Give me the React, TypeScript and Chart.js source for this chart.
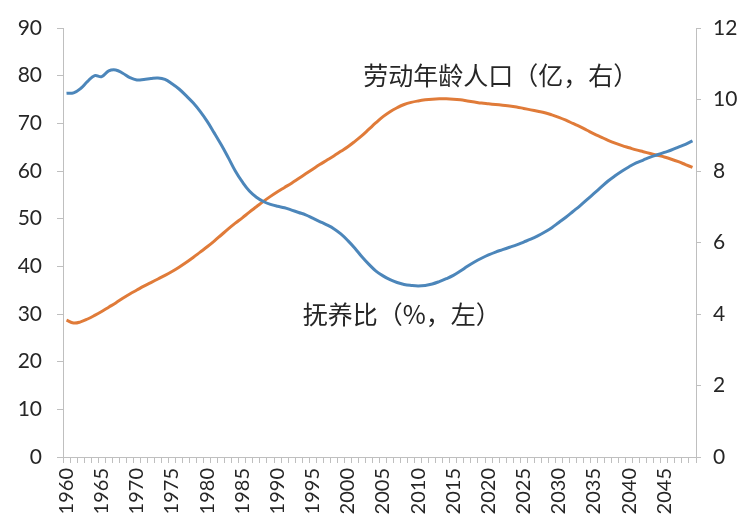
import React, { useEffect, useRef } from "react";
import { Chart, registerables } from "chart.js";

Chart.register(...registerables);

const years: string[] = [];
for (let y = 1960; y <= 2049; y++) years.push(String(y));

// 抚养比 (%, left axis)
const dependencyRatio = [
  76.3, 76.4, 77.3, 78.8, 80.0, 79.8, 81.0, 81.2, 80.5, 79.6,
  79.1, 79.2, 79.4, 79.5, 79.2, 78.3, 77.2, 75.8, 74.3, 72.5,
  70.4, 68.0, 65.5, 62.8, 60.0, 57.7, 55.8, 54.5, 53.6, 53.0,
  52.6, 52.3, 51.8, 51.3, 50.8, 50.1, 49.4, 48.7, 47.9, 46.8,
  45.4, 43.8, 42.0, 40.4, 39.0, 38.0, 37.2, 36.6, 36.2, 36.0,
  35.9, 36.0, 36.3, 36.8, 37.4, 38.1, 39.0, 40.0, 40.9, 41.7,
  42.4, 43.0, 43.5, 44.0, 44.5, 45.1, 45.7, 46.4, 47.2, 48.1,
  49.2, 50.3, 51.5, 52.7, 54.0, 55.3, 56.6, 57.9, 59.0, 60.0,
  60.9, 61.7, 62.3, 62.9, 63.4, 63.9, 64.4, 65.0, 65.6, 66.3,
];

// 劳动年龄人口 (亿, right axis)
const workingAgePop = [
  3.83, 3.75, 3.78, 3.86, 3.96, 4.07, 4.19, 4.31, 4.44, 4.56,
  4.67, 4.78, 4.88, 4.98, 5.08, 5.19, 5.31, 5.44, 5.58, 5.73,
  5.88, 6.04, 6.21, 6.38, 6.54, 6.69, 6.85, 7.00, 7.15, 7.29,
  7.42, 7.54, 7.66, 7.79, 7.92, 8.05, 8.18, 8.30, 8.42, 8.55,
  8.68, 8.83, 8.99, 9.17, 9.35, 9.52, 9.66, 9.77, 9.86, 9.92,
  9.96, 9.99, 10.01, 10.02, 10.02, 10.01, 9.99, 9.96, 9.93, 9.90,
  9.88, 9.86, 9.84, 9.82, 9.79, 9.75, 9.71, 9.67, 9.63, 9.57,
  9.50, 9.42, 9.33, 9.24, 9.14, 9.04, 8.95, 8.86, 8.78, 8.71,
  8.65, 8.59, 8.54, 8.49, 8.44, 8.39, 8.33, 8.26, 8.18, 8.10,
];

const leftLabel = "抚养比（%，左）";
const rightLabel = "劳动年龄人口（亿，右）";
// annotation anchors in data coordinates: [category index, left-axis value]
const rightLabelAnchor = [42.2, 80];
const leftLabelAnchor = [33.6, 29.8];

const FONT = "Lato, 'Noto Sans CJK SC', sans-serif";
const CJK = "'Noto Sans CJK SC', sans-serif";

const annotationPlugin = {
  id: "annots",
  afterDatasetsDraw(chart: any) {
    const { ctx, scales } = chart;
    const x = scales.x;
    const y = scales.y;
    const px = (i: number) => {
      const a = x.getPixelForValue(Math.floor(i));
      const b = x.getPixelForValue(Math.floor(i) + 1);
      return a + (b - a) * (i - Math.floor(i));
    };
    ctx.save();
    ctx.fillStyle = "#262626";
    ctx.font = "25px " + CJK;
    ctx.textAlign = "left";
    ctx.textBaseline = "middle";
    ctx.fillText(rightLabel, px(rightLabelAnchor[0]), y.getPixelForValue(rightLabelAnchor[1]));
    ctx.fillText(leftLabel, px(leftLabelAnchor[0]), y.getPixelForValue(leftLabelAnchor[1]));
    ctx.restore();
  },
};

export default function App() {
  const ref = useRef<HTMLCanvasElement>(null);
  useEffect(() => {
    if (!ref.current) return;
    const chart = new Chart(ref.current, {
      type: "line",
      data: {
        labels: years,
        datasets: [
          {
            label: leftLabel,
            data: dependencyRatio,
            yAxisID: "y",
            borderColor: "#4C86BA",
            borderWidth: 3,
            pointRadius: 0,
            tension: 0.4,
            fill: false,
          },
          {
            label: rightLabel,
            data: workingAgePop,
            yAxisID: "y1",
            borderColor: "#E07B39",
            borderWidth: 3,
            pointRadius: 0,
            tension: 0.4,
            fill: false,
          },
        ],
      },
      options: {
        animation: false,
        responsive: false,
        maintainAspectRatio: false,
        layout: { padding: { top: 28, left: 0, right: 0, bottom: 0 } },
        plugins: {
          legend: { display: false },
          tooltip: { enabled: false },
        },
        scales: {
          x: {
            type: "category",
            offset: true,
            grid: {
              offset: true,
              drawOnChartArea: false,
              drawTicks: true,
              tickLength: 6,
              color: "#bfbfbf",
            },
            border: { color: "#bfbfbf", width: 1 },
            ticks: {
              autoSkip: false,
              minRotation: 90,
              maxRotation: 90,
              padding: 5,
              color: "#262626",
              font: { family: FONT, size: 20 },
              callback: (_v: any, i: number) => {
                const yr = Number(years[i]);
                return yr % 5 === 0 ? years[i] : "";
              },
            },
            afterFit: (s: any) => {
              s.height = 62;
            },
          },
          y: {
            position: "left",
            min: 0,
            max: 90,
            grid: { drawOnChartArea: false, tickLength: 6, color: "#bfbfbf" },
            border: { color: "#bfbfbf", width: 1 },
            ticks: {
              stepSize: 10,
              padding: 15,
              color: "#262626",
              font: { family: FONT, size: 21 },
            },
            afterFit: (s: any) => {
              s.width = 63;
            },
          },
          y1: {
            position: "right",
            min: 0,
            max: 12,
            grid: { drawOnChartArea: false, tickLength: 5, color: "#bfbfbf" },
            border: { color: "#bfbfbf", width: 1 },
            ticks: {
              stepSize: 2,
              padding: 12,
              color: "#262626",
              font: { family: FONT, size: 21 },
            },
            afterFit: (s: any) => {
              s.width = 51;
            },
          },
        },
      },
      plugins: [annotationPlugin],
    });
    return () => chart.destroy();
  }, []);
  return (
    <div style={{ position: "fixed", left: 0, top: 0, width: 747, height: 519, background: "#ffffff" }}>
      <canvas ref={ref} width={747} height={519} style={{ display: "block" }} />
    </div>
  );
}
